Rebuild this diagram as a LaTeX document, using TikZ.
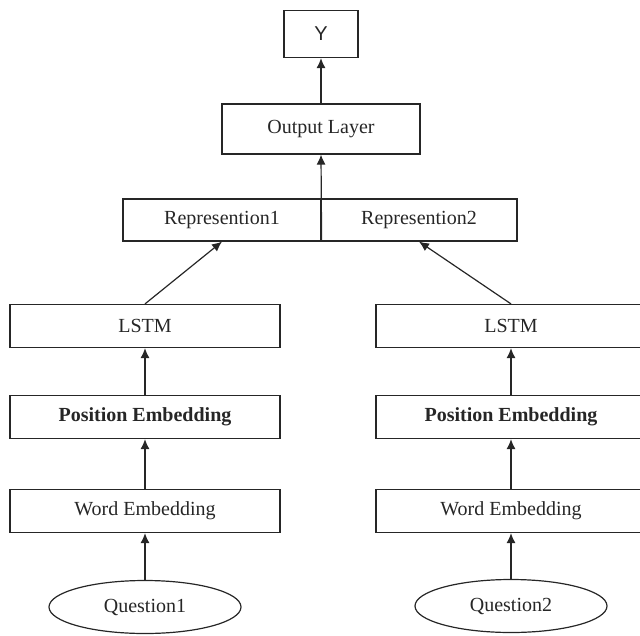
\documentclass[tikz,border=0pt]{standalone}
\usepackage{fontspec}
\setmainfont{Liberation Serif}
\setsansfont{Liberation Sans}
\usetikzlibrary{arrows.meta,positioning,shapes.geometric}
\tikzset{block/.style={draw, rectangle, line width=1.2pt, minimum width=270pt, minimum height=43pt, inner sep=0pt}}
\tikzstyle{quest}=[draw, ellipse, line width=1.2pt, minimum width=192pt, minimum height=53pt, inner sep=0pt]

\begin{document}
\begin{tikzpicture}[x=1pt, y=1pt, >={Latex[length=10pt,width=9pt]}, node distance=94pt, font=\fontsize{20}{24}\selectfont, color={black!85}]
\useasboundingbox (0,0) rectangle (640,-635);
% left branch
\node[quest] (Q1) at (145,-607) {Question1};
\node[block][above of =Q1, node distance=96pt] (W1) {Word Embedding};
\node[block][above of =W1] (P1) {\bfseries Position Embedding};
\node[block][above of =P1, node distance=91pt] (L1) {LSTM};
% right branch
\node[quest] (Q2) at (511,-606) {Question2};
\node[block][above of =Q2, node distance=95pt] (W2) {Word Embedding};
\node[block][above of =W2] (P2) {\bfseries Position Embedding};
\node[block][above of =P2, node distance=91pt] (L2) {LSTM};
% top
\node[block, minimum width=198pt, minimum height=42pt] (R1) at (222,-220) {Represention1};
\node[block, minimum width=196pt, minimum height=42pt][right=-1.2pt of R1] (R2) {Represention2};
\node[block, minimum width=198pt, minimum height=50pt] (Out) at (321,-129) {Output Layer};
\node[block, minimum width=74pt, minimum height=47pt][above of =Out, node distance=95pt] (Yout) {\sffamily Y};

\path[->, line width=1.2pt] (Q1) edge (W1)
	(W1) edge (P1)
	(P1) edge (L1)
	(Q2) edge (W2)
	(W2) edge (P2)
	(P2) edge (L2)
	(L1.north) edge (R1.south)
	(L2.north) edge (R2.south)
	(R1.south east) edge (Out.south)
	(Out) edge (Yout)
;
\end{tikzpicture}
\end{document}
